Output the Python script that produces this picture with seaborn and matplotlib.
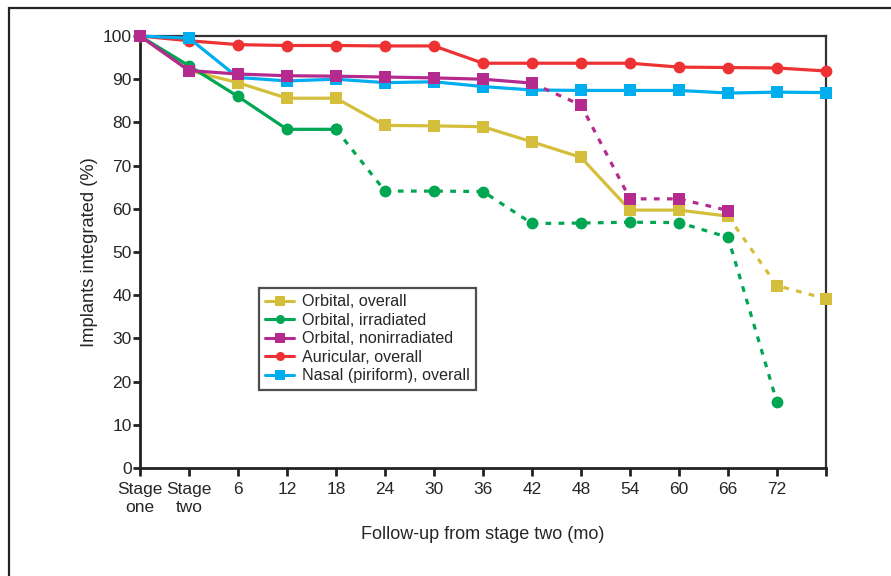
import pandas as pd
import seaborn as sns
import matplotlib.pyplot as plt
from matplotlib.patches import Rectangle
from matplotlib.lines import Line2D

# follow-up points (stage one, stage two, then months)
tick_labels = ["Stage\none", "Stage\ntwo", "6", "12", "18", "24", "30", "36",
               "42", "48", "54", "60", "66", "72", ""]
steps = list(range(len(tick_labels)))

orbital_overall = [100, 92.0, 89.2, 85.6, 85.6, 79.3, 79.2, 79.0, 75.5, 71.9, 59.7, 59.7, 58.3, 42.2, 39.2]
orbital_irradiated = [100, 93.1, 86.0, 78.4, 78.4, 64.1, 64.1, 64.0, 56.6, 56.7, 56.9, 56.8, 53.4, 15.2, None]
orbital_nonirradiated = [100, 92.0, 91.2, 90.8, 90.7, 90.5, 90.3, 90.0, 89.1, 84.0, 62.3, 62.3, 59.6, None, None]
auricular_overall = [100, 98.9, 98.0, 97.8, 97.8, 97.7, 97.7, 93.7, 93.7, 93.7, 93.7, 92.8, 92.7, 92.6, 91.9]
nasal_overall = [100, 99.5, 90.4, 89.6, 90.0, 89.2, 89.4, 88.3, 87.5, 87.4, 87.4, 87.4, 86.8, 87.0, 86.9]

# (name, values, last solid index, colour, marker)
series = [
    ("Orbital, overall", orbital_overall, 12, "#D4BE3C", "s"),
    ("Orbital, irradiated", orbital_irradiated, 4, "#00A651", "o"),
    ("Orbital, nonirradiated", orbital_nonirradiated, 8, "#B52A8E", "s"),
    ("Auricular, overall", auricular_overall, 14, "#EE3234", "o"),
    ("Nasal (piriform), overall", nasal_overall, 14, "#00AEEF", "s"),
]
zorders = [4, 5, 6, 3, 3.5]

sns.set_style("white")
plt.rcParams["font.family"] = ["Liberation Sans", "DejaVu Sans"]

fig = plt.figure(figsize=(8.91, 5.76), dpi=100)
ax = fig.add_axes([140 / 891, 1 - 468 / 576, 686 / 891, 432 / 576])

for (name, vals, cut, color, mk), z in zip(series, zorders):
    df = pd.DataFrame({"step": steps, "value": vals}).dropna()
    solid = df[df["step"] <= cut]
    dashed = df[df["step"] >= cut]
    sns.lineplot(data=solid, x="step", y="value", color=color, marker=mk,
                 markersize=8.5, markeredgewidth=0, linewidth=2.3, ax=ax,
                 zorder=z, clip_on=False)
    if len(dashed) > 1:
        sns.lineplot(data=dashed, x="step", y="value", color=color, marker=mk,
                     markersize=8.5, markeredgewidth=0, linewidth=2.3, ax=ax,
                     zorder=z, clip_on=False, dashes=False, linestyle=(0, (1.8, 2.3)))

ax.set_xlim(0, 14)
ax.set_ylim(0, 100)
ax.set_xticks(steps)
ax.set_xticklabels(tick_labels, fontsize=12.5, linespacing=1.25)
ax.set_yticks(range(0, 101, 10))
ax.tick_params(axis="y", labelsize=12.5, length=5, width=2, color="#222222", pad=1, direction="out")
ax.tick_params(axis="x", length=6, width=2, color="#222222", pad=4, direction="out")
ax.tick_params(left=True, bottom=True)
for side in ["left", "bottom"]:
    ax.spines[side].set_linewidth(2)
    ax.spines[side].set_color("#222222")
for side in ["top", "right"]:
    ax.spines[side].set_linewidth(1.6)
    ax.spines[side].set_color("#333333")

ax.set_xlabel("Follow-up from stage two (mo)", fontsize=13, labelpad=8)
ax.set_ylabel("Implants integrated (%)", fontsize=13.2, labelpad=3)

handles = [Line2D([0], [0], color=c, marker=m, markersize=6.5, markeredgewidth=0, linewidth=2.2)
           for _, _, _, c, m in series]
leg = ax.legend(handles, [s[0] for s in series], loc="upper left",
                bbox_to_anchor=(0.173, 0.417), borderaxespad=0, fontsize=11.6,
                frameon=True, fancybox=False, handlelength=1.8, handletextpad=0.5,
                labelspacing=0.22, borderpad=0.4)
leg.get_frame().set_edgecolor("#222222")
leg.get_frame().set_linewidth(1.6)

# outer frame around the figure
fig.patches.append(Rectangle((9 / 891, -0.05), 1.1, 1 - 8 / 576 + 0.05,
                             transform=fig.transFigure, fill=False,
                             edgecolor="#222222", linewidth=1.6, zorder=0))

fig.savefig("out.png", dpi=100)
